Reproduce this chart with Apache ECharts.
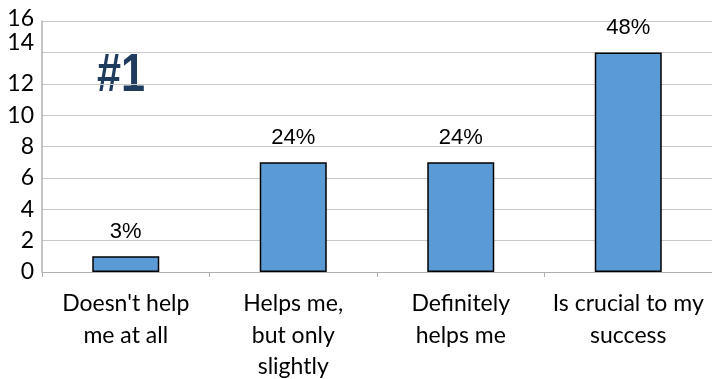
<!DOCTYPE html>
<html>
<head>
<meta charset="utf-8">
<style>
  html, body { margin: 0; padding: 0; background: #ffffff; }
  #chart { width: 712px; height: 379px; }
</style>
<script src="https://cdn.jsdelivr.net/npm/echarts@6/dist/echarts.min.js"></script>
</head>
<body>
<div id="chart"></div>
<script>
// Survey answers and their response counts
const categories = ["Doesn't help\nme at all", "Helps me,\nbut only\nslightly", "Definitely\nhelps me", "Is crucial to my\nsuccess"];
const counts = [1, 7, 7, 14];
const shareLabels = ["3%", "24%", "24%", "48%"];
const yTicks = [0, 2, 4, 6, 8, 10, 12, 14, 16];

const chart = echarts.init(document.getElementById('chart'), null, { renderer: 'canvas' });

const humanist = 'Lato, "Open Sans", sans-serif';
const sans = '"Liberation Sans", Arial, sans-serif';

chart.setOption({
  animation: false,
  backgroundColor: '#ffffff',
  grid: { left: 42, right: 0, top: 21, bottom: 107, containLabel: false, outerBoundsMode: 'none' },
  graphic: [{
    type: 'text',
    left: 97, top: 49,
    scaleX: 0.8,
    style: { text: '#1', font: 'bold 54px ' + sans, fill: '#1f3c5f' }
  }],
  xAxis: {
    type: 'category',
    data: categories,
    axisLine: { lineStyle: { color: '#b0b0b0', width: 1 } },
    axisTick: { show: true, length: 5, lineStyle: { color: '#b0b0b0' } },
    axisLabel: {
      margin: 16, interval: 0,
      fontFamily: humanist, fontSize: 23, lineHeight: 31.5, color: '#000000'
    }
  },
  yAxis: {
    type: 'value',
    min: yTicks[0], max: yTicks[yTicks.length - 1], interval: 2,
    axisLine: { show: true, lineStyle: { color: '#b0b0b0', width: 1.5 } },
    axisTick: { show: false },
    splitLine: { lineStyle: { color: '#c8c8c8', width: 1 } },
    axisLabel: {
      margin: 8, color: '#000000',
      formatter: function (v) {
        if (v === 14) return '{up14|' + v + '}';
        if (v === 16) return '{up16|' + v + '}';
        return '{n|' + v + '}';
      },
      rich: {
        n: { fontFamily: humanist, fontSize: 23, color: '#000' },
        up14: { fontFamily: humanist, fontSize: 23, color: '#000', padding: [0, 0, 20, 0] },
        up16: { fontFamily: humanist, fontSize: 23, color: '#000', padding: [0, 0, 4, 0] }
      }
    }
  },
  series: [{
    type: 'bar',
    data: counts,
    barWidth: '40%',
    itemStyle: { color: '#5b9bd5', borderColor: '#000000', borderWidth: 1.5 },
    label: {
      show: true, position: 'top', distance: 13,
      fontFamily: sans, fontSize: 22, color: '#000000',
      formatter: function (p) { return shareLabels[p.dataIndex]; }
    }
  }]
});
</script>
</body>
</html>
